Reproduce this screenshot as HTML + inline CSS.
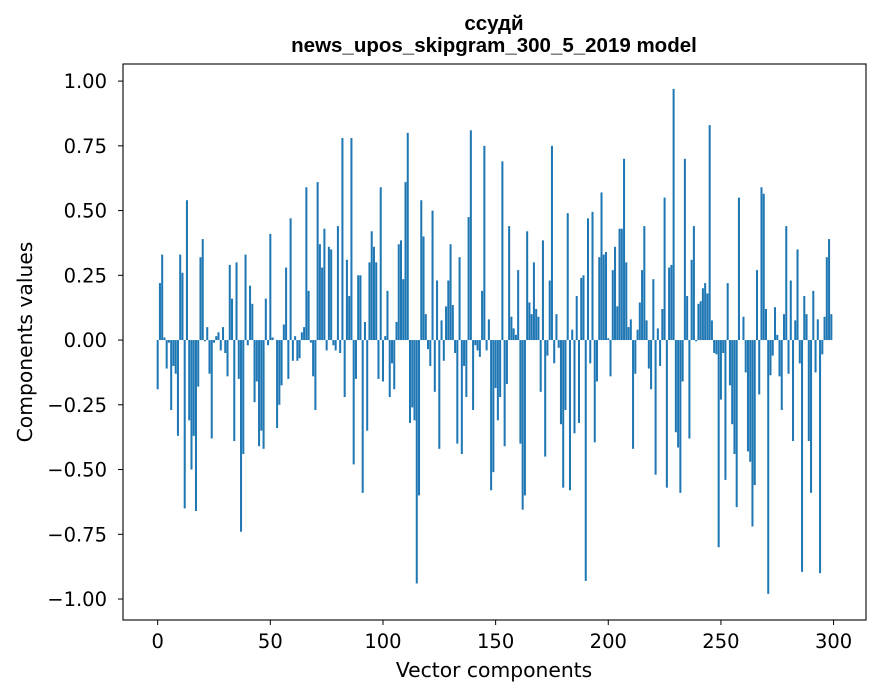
<!DOCTYPE html>
<html><head><meta charset="utf-8"><style>
html,body{margin:0;padding:0;background:#fff;}
svg{display:block;font-family:"DejaVu Sans","Liberation Sans",sans-serif;}
</style></head><body>
<svg id="chart" width="880" height="696" viewBox="0 0 880 696" xmlns="http://www.w3.org/2000/svg">
<rect x="0" y="0" width="880" height="696" fill="#fff"/>
<text x="494" y="30" text-anchor="middle" font-size="20.5" font-weight="bold" font-family="Liberation Sans, sans-serif">ссудй</text>
<text x="494" y="52" text-anchor="middle" font-size="20.5" font-weight="bold" font-family="Liberation Sans, sans-serif">news_upos_skipgram_300_5_2019 model</text>
<g id="bars"></g>
<g id="axes"></g>
<text x="494" y="677" text-anchor="middle" font-size="20.3">Vector components</text>
<text x="0" y="0" transform="translate(32,342) rotate(-90)" text-anchor="middle" font-size="20.3">Components values</text>
</svg>
<script>
const values = [
-0.19,0.22,0.33,0.01,-0.11,-0.01,-0.27,-0.10,-0.13,-0.37,
0.33,0.26,-0.65,0.54,-0.31,-0.50,-0.37,-0.66,-0.18,0.32,
0.39,-0.005,0.05,-0.13,-0.38,-0.01,0.015,0.03,-0.04,0.05,
-0.05,-0.14,0.29,0.16,-0.39,0.30,-0.15,-0.74,-0.44,0.33,
-0.02,0.21,0.14,-0.24,-0.16,-0.41,-0.35,-0.42,0.16,-0.02,
0.41,0.01,0.0,-0.34,-0.25,-0.175,0.06,0.28,-0.15,0.47,
-0.08,0.015,-0.08,-0.07,0.03,0.05,0.59,0.19,-0.01,-0.14,
-0.27,0.61,0.37,0.28,0.43,-0.04,0.36,0.35,-0.02,-0.04,
0.44,-0.05,0.78,-0.22,0.31,0.17,0.78,-0.48,-0.15,0.25,
0.25,-0.59,0.07,-0.35,0.30,0.42,0.36,0.30,-0.15,0.59,
-0.16,0.015,0.19,-0.22,-0.09,-0.19,0.07,0.37,0.385,0.235,
0.61,0.80,-0.32,-0.26,-0.31,-0.94,-0.60,0.54,0.40,0.10,
-0.035,-0.10,0.50,-0.20,0.23,-0.42,0.076,-0.08,0.13,0.23,
0.37,0.135,-0.05,-0.40,0.32,-0.44,-0.10,-0.22,0.475,0.81,
-0.27,-0.02,-0.04,-0.065,0.19,0.75,-0.04,0.08,-0.58,-0.51,
-0.185,-0.31,-0.22,0.69,-0.41,-0.17,0.44,0.09,0.045,0.02,
0.27,-0.40,-0.655,-0.60,0.42,0.145,0.10,0.30,0.12,0.09,
-0.20,0.385,-0.45,-0.06,0.23,0.75,-0.09,0.10,-0.03,-0.325,
-0.57,-0.27,0.49,-0.58,0.04,-0.36,0.17,-0.32,0.24,0.25,
-0.93,0.47,-0.09,0.495,-0.395,-0.16,0.32,0.57,0.33,0.34,
0.007,-0.14,0.27,0.36,0.13,0.43,0.43,0.70,0.30,0.05,
0.08,-0.42,-0.13,0.04,0.145,0.27,0.44,0.076,-0.11,-0.19,
0.235,-0.52,0.045,-0.10,0.12,0.55,-0.57,0.28,0.29,0.97,
-0.356,-0.415,-0.59,-0.16,0.70,0.17,-0.38,0.31,0.44,-0.005,
0.14,0.15,0.20,0.22,0.18,0.83,0.076,-0.05,-0.055,-0.80,
-0.23,-0.05,-0.54,0.22,-0.175,-0.325,-0.44,-0.645,0.55,0.0,
0.09,-0.125,-0.43,-0.47,-0.72,-0.56,0.27,-0.21,0.59,0.565,
0.12,-0.98,-0.136,-0.06,0.127,0.02,-0.14,-0.27,0.10,0.44,
-0.13,0.23,-0.39,0.076,0.35,-0.09,-0.895,0.17,0.10,-0.39,
-0.59,0.19,-0.125,0.08,-0.90,-0.055,0.09,0.32,0.39,0.10
];
const xTicks = [0,50,100,150,200,250,300];
const yTicks = [1.0,0.75,0.5,0.25,0,-0.25,-0.5,-0.75,-1.0];
const yTickLabels = ["1.00","0.75","0.50","0.25","0.00","−0.25","−0.50","−0.75","−1.00"];

const L=123,R=866,T=64,B=620;
const xMin=-15.39,xMax=314.39,yMin=-1.081,yMax=1.066;
const xs=v=>L+(v-xMin)/(xMax-xMin)*(R-L);
const ys=v=>B-(v-yMin)/(yMax-yMin)*(B-T);
const NS="http://www.w3.org/2000/svg";
const bars=document.getElementById('bars');
values.forEach((v,i)=>{
  const r=document.createElementNS(NS,'rect');
  const x0=xs(i-0.45),x1=xs(i+0.45);
  const y0=ys(Math.max(v,0)),y1=ys(Math.min(v,0));
  r.setAttribute('x',x0);r.setAttribute('width',x1-x0);
  r.setAttribute('y',y0);r.setAttribute('height',Math.max(y1-y0,0.01));
  r.setAttribute('fill','#1f77b4');
  
  
  bars.appendChild(r);
});
const axes=document.getElementById('axes');
const frame=document.createElementNS(NS,'rect');
frame.setAttribute('x',L);frame.setAttribute('y',T);frame.setAttribute('width',R-L);frame.setAttribute('height',B-T);
frame.setAttribute('fill','none');frame.setAttribute('stroke','#000');frame.setAttribute('stroke-width','1.1');


axes.appendChild(frame);
xTicks.forEach(t=>{
  const x=xs(t);
  const l=document.createElementNS(NS,'line');
  l.setAttribute('x1',x);l.setAttribute('x2',x);l.setAttribute('y1',B);l.setAttribute('y2',B+5);l.setAttribute('stroke','#000');
  
  
  axes.appendChild(l);
  const tx=document.createElementNS(NS,'text');
  tx.setAttribute('x',x);tx.setAttribute('y',B+28);tx.setAttribute('text-anchor','middle');tx.setAttribute('font-size','19.5');
  tx.textContent=t;
  
  
  axes.appendChild(tx);
});
yTicks.forEach((t,i)=>{
  const y=ys(t);
  const l=document.createElementNS(NS,'line');
  l.setAttribute('x1',L-5);l.setAttribute('x2',L);l.setAttribute('y1',y);l.setAttribute('y2',y);l.setAttribute('stroke','#000');
  
  
  axes.appendChild(l);
  const tx=document.createElementNS(NS,'text');
  tx.setAttribute('x',L-16);tx.setAttribute('y',y+7);tx.setAttribute('text-anchor','end');tx.setAttribute('font-size','19.5');
  tx.textContent=yTickLabels[i];
  
  
  axes.appendChild(tx);
});
</script>
</body></html>
